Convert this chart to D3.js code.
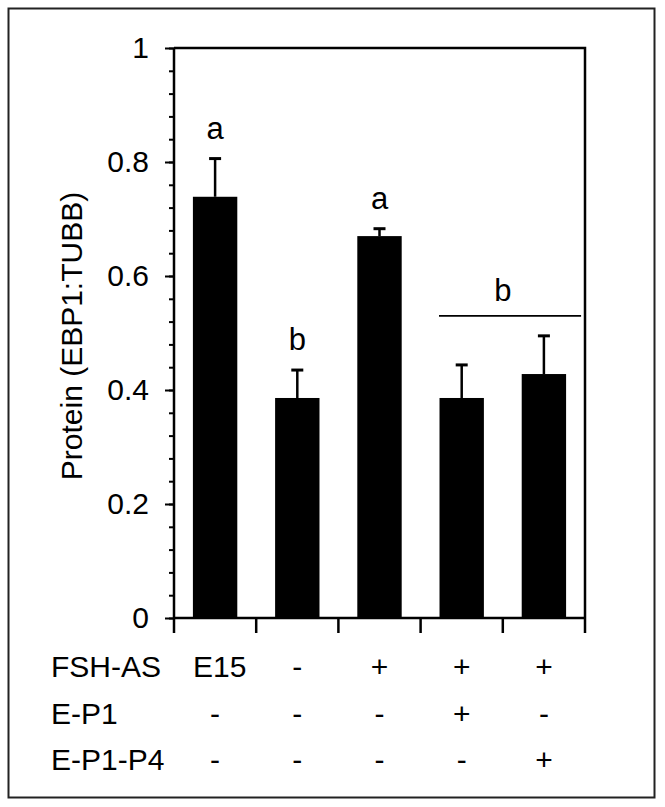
<!DOCTYPE html>
<html><head><meta charset="utf-8">
<script src="https://cdn.jsdelivr.net/npm/d3@7"></script>
<style>body{margin:0;background:#fff}svg{display:block}text{font-family:"Liberation Sans",Arial,sans-serif;fill:#000}</style>
</head><body><svg id="c" width="665" height="807"></svg>
<script>
const categories = ["E15", "FSH-AS", "FSH-AS+E", "FSH-AS+E-P1", "FSH-AS+E-P1-P4"];
const values = [0.739, 0.386, 0.670, 0.386, 0.428];
const errors = [0.067, 0.049, 0.013, 0.058, 0.067];
const sigLetters = ["a", "b", "a", "", ""];
const yTicks = [0, 0.2, 0.4, 0.6, 0.8, 1];
const rowLabels = ["FSH-AS", "E-P1", "E-P1-P4"];
const rowFSH = ["E15", "-", "+", "+", "+"];
const rowEP1 = ["-", "-", "-", "+", "-"];
const rowEP1P4 = ["-", "-", "-", "-", "+"];

const svg = d3.select("#c");
svg.append("rect").attr("x", 8.5).attr("y", 8.5).attr("width", 646).attr("height", 789)
  .attr("fill", "none").attr("stroke", "#222").attr("stroke-width", 2);

const pL = 174, pR = 585, pT = 48, pB = 618;
const x = d3.scaleBand().domain(categories).range([pL, pR]).paddingInner(0.46).paddingOuter(0.23);
const y = d3.scaleLinear().domain([0, 1]).range([pB, pT]);

// plot frame (top and right)
svg.append("path").attr("d", `M${pL},${pT}H${pR}V${pB}`).attr("fill", "none").attr("stroke", "#000").attr("stroke-width", 2.5);

// minor ticks
const yMinor = d3.axisLeft(y).tickValues(d3.range(0, 1.0001, 0.04)).tickSize(5).tickFormat("");
svg.append("g").attr("transform", `translate(${pL},0)`).call(yMinor)
  .call(g => g.select(".domain").remove())
  .call(g => g.selectAll("line").attr("stroke", "#000").attr("stroke-width", 2));

const yAxis = d3.axisLeft(y).tickValues(yTicks).tickSize(9).tickPadding(16).tickFormat(d => d3.format("")(d));
svg.append("g").attr("transform", `translate(${pL},0)`).call(yAxis)
  .call(g => g.select(".domain").attr("stroke-width", 2.5).attr("d", `M0,${pT}V${pB}`))
  .call(g => g.selectAll("line").attr("stroke", "#000").attr("stroke-width", 2))
  .call(g => g.selectAll("text").attr("font-size", 30).attr("font-family", "Liberation Sans, Arial, sans-serif"));

// x axis with boundary ticks
const boundaries = categories.map(c => x(c) - x.step() * x.paddingInner() / 2).concat([pR]);
boundaries[0] = pL;
svg.append("line").attr("x1", pL).attr("x2", pR).attr("y1", pB).attr("y2", pB).attr("stroke", "#000").attr("stroke-width", 2.5);
svg.selectAll(".xt").data(boundaries).join("line").attr("class", "xt")
  .attr("x1", d => d).attr("x2", d => d).attr("y1", pB).attr("y2", pB + 15)
  .attr("stroke", "#000").attr("stroke-width", 2.5);

// bars
svg.selectAll(".bar").data(categories).join("rect").attr("class", "bar")
  .attr("x", d => x(d)).attr("width", x.bandwidth())
  .attr("y", (d, i) => y(values[i])).attr("height", (d, i) => y(0) - y(values[i]))
  .attr("fill", "#000");

// error bars
const cx = d => x(d) + x.bandwidth() / 2;
svg.selectAll(".err").data(categories).join("line").attr("class", "err")
  .attr("x1", cx).attr("x2", cx)
  .attr("y1", (d, i) => y(values[i])).attr("y2", (d, i) => y(values[i] + errors[i]))
  .attr("stroke", "#000").attr("stroke-width", 2.5);
svg.selectAll(".cap").data(categories).join("line").attr("class", "cap")
  .attr("x1", d => cx(d) - 6).attr("x2", d => cx(d) + 6)
  .attr("y1", (d, i) => y(values[i] + errors[i])).attr("y2", (d, i) => y(values[i] + errors[i]))
  .attr("stroke", "#000").attr("stroke-width", 3);

// significance letters
svg.selectAll(".sig").data(categories).join("text").attr("class", "sig")
  .attr("x", cx).attr("y", (d, i) => y(values[i] + errors[i]) - 20)
  .attr("text-anchor", "middle").attr("font-size", 31)
  .text((d, i) => sigLetters[i]);

// group bracket for last two
const gx1 = x(categories[3]) - 0.5, gx2 = x(categories[4]) + x.bandwidth() + 15;
const gy = y(0.53);
svg.append("line").attr("x1", gx1).attr("x2", gx2).attr("y1", gy).attr("y2", gy).attr("stroke", "#000").attr("stroke-width", 1.8);
svg.append("text").attr("x", (x(categories[3]) + x(categories[4]) + x.bandwidth()) / 2).attr("y", gy - 15)
  .attr("text-anchor", "middle").attr("font-size", 31).text("b");

// y label
svg.append("text").attr("transform", `translate(82,336) rotate(-90)`)
  .attr("text-anchor", "middle").attr("font-size", 30).text("Protein (EBP1:TUBB)");

// condition table
const rows = [rowFSH, rowEP1, rowEP1P4];
const rowY = [677, 724, 770];
rowLabels.forEach((lab, r) => {
  svg.append("text").attr("x", 51).attr("y", rowY[r]).attr("font-size", 30).text(lab);
  svg.selectAll(".r" + r).data(categories).join("text").attr("class", "r" + r)
    .attr("x", (d, i) => (rows[r][i] === "E15" ? 193 : cx(d)))
    .attr("text-anchor", (d, i) => (rows[r][i] === "E15" ? "start" : "middle"))
    .attr("y", rowY[r]).attr("font-size", 30)
    .text((d, i) => rows[r][i]);
});
</script></body></html>
